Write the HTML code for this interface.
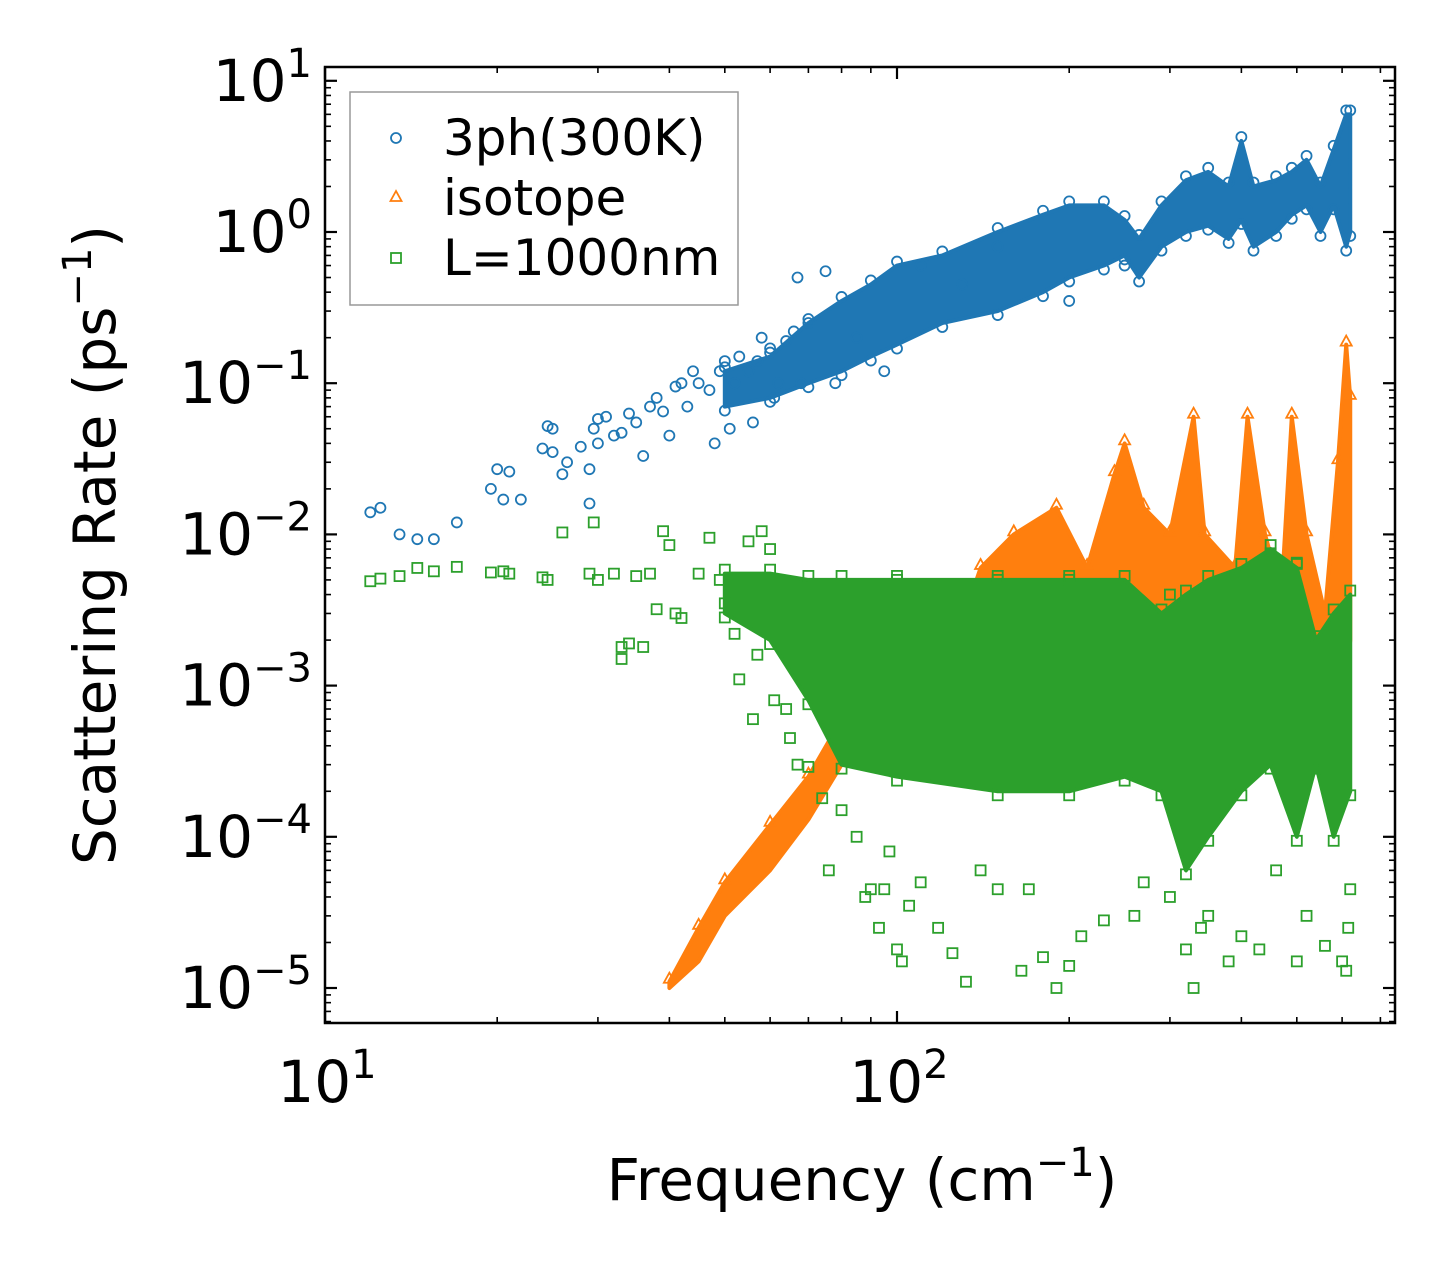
<!DOCTYPE html>
<html><head><meta charset="utf-8"><style>
html,body{margin:0;padding:0;background:#fff;}
svg{display:block;font-family:"DejaVu Sans","Liberation Sans",sans-serif;}
</style></head><body>
<svg id="chart" width="1455" height="1273" viewBox="0 0 1455 1273">
<g id="marks"></g>
<g id="axes"></g>
</svg>
<script>
// ---- data ----
const blueSparseF = [12,12.5,13.5,14.5,15.5,17,19.5,20,20.5,21,22,24,24.5,25,25,26,26.5,28,29,29,29.5,30,30,31,32,33,34,35,36,37,38,39,40,41,42,43,44,45,47,48,49,50,51,52,53,55,56,57,58,60,61,62,64,66,67,68,70,75,78,85,95,110,130,150,200,250];
const blueSparseR = [0.014,0.015,0.01,0.0093,0.0093,0.012,0.02,0.027,0.017,0.026,0.017,0.037,0.052,0.05,0.035,0.025,0.03,0.038,0.016,0.027,0.05,0.058,0.04,0.06,0.045,0.047,0.063,0.055,0.033,0.07,0.08,0.065,0.045,0.095,0.1,0.07,0.12,0.1,0.09,0.04,0.12,0.14,0.05,0.1,0.15,0.12,0.055,0.14,0.2,0.17,0.08,0.1,0.19,0.22,0.5,0.1,0.25,0.55,0.1,0.2,0.12,0.6,0.45,0.8,0.35,0.6];
const blueBandF  = [50,60,70,80,90,100,120,150,180,200,230,250,265,290,320,350,380,400,420,460,490,520,550,580,610,620];
const blueBandLo = [0.07,0.08,0.1,0.12,0.15,0.18,0.25,0.3,0.4,0.5,0.6,0.7,0.5,0.8,1.0,1.1,0.9,1.2,0.8,1.0,1.3,1.5,1.0,1.5,0.8,1.0];
const blueBandHi = [0.12,0.15,0.25,0.35,0.45,0.6,0.7,1.0,1.3,1.5,1.5,1.2,0.9,1.5,2.2,2.5,2.0,4,2,2.2,2.5,3,2.0,3.5,6,6];

const orangeBandF  = [40,45,50,60,70,80,90,135,140,160,190,215,240,250,270,300,330,345,390,410,440,470,490,520,560,590,610,620];
const orangeBandLo = [1e-5,1.5e-5,3e-5,6e-5,1.3e-4,3e-4,4e-4,5e-4,5e-4,5e-4,5e-4,6e-4,6e-4,1e-3,1e-3,1e-3,1e-3,1e-3,1e-3,1e-3,1e-3,1e-3,1e-3,1e-3,1e-3,1e-3,1e-3,2e-3];
const orangeBandHi = [1.1e-5,2.5e-5,5e-5,1.2e-4,2.5e-4,6e-4,1e-3,4e-3,6e-3,0.01,0.015,0.006,0.025,0.04,0.015,0.01,0.06,0.01,0.006,0.06,0.01,0.004,0.06,0.01,0.003,0.03,0.18,0.08];

const greenSparseF = [12,12.5,13.5,14.5,15.5,17,19.5,20.5,21,24,24.5,26,29,29.5,30,32,33,33,34,35,36,37,38,39,40,41,42,45,47,49,50,52,53,55,56,57,58,60,61,64,65,67,70,74,76,80,85,88,90,93,95,97,100,102,105,110,118,125,132,140,150,165,170,180,190,200,210,230,260,270,300,320,330,340,350,380,400,430,460,500,520,560,600,610,615,620,100,150,200,300,450,500];
const greenSparseR = [0.0049,0.0051,0.0053,0.006,0.0057,0.0061,0.0056,0.0057,0.0055,0.0052,0.005,0.0103,0.0055,0.012,0.005,0.0055,0.0015,0.0018,0.0019,0.0053,0.0018,0.0055,0.0032,0.0105,0.0085,0.003,0.0028,0.0055,0.0095,0.005,0.0035,0.0022,0.0011,0.009,0.0006,0.0016,0.0105,0.008,0.0008,0.0007,0.00045,0.0003,0.00029,0.00018,0.00006,0.00015,0.0001,4e-5,4.5e-5,2.5e-5,4.5e-5,8e-5,1.8e-5,1.5e-5,3.5e-5,5e-5,2.5e-5,1.7e-5,1.1e-5,6e-5,4.5e-5,1.3e-5,4.5e-5,1.6e-5,1e-5,1.4e-5,2.2e-5,2.8e-5,3e-5,5e-5,4e-5,1.8e-5,1e-5,2.5e-5,3e-5,1.5e-5,2.2e-5,1.8e-5,6e-5,1.5e-5,3e-5,1.9e-5,1.5e-5,1.3e-5,2.5e-5,4.5e-5,0.005,0.005,0.005,0.004,0.0075,0.0065];
const greenBandF  = [50,60,70,80,100,150,200,250,290,320,350,400,450,500,540,580,620];
const greenBandLo = [0.003,0.002,0.0008,0.0003,0.00025,0.0002,0.0002,0.00025,0.0002,0.00006,0.0001,0.0002,0.0003,0.0001,0.0003,0.0001,0.0002];
const greenBandHi = [0.0055,0.0055,0.005,0.005,0.005,0.005,0.005,0.005,0.003,0.004,0.005,0.006,0.008,0.006,0.002,0.003,0.004];

const xTickVals = [10,100];
const xTickExp = ['1','2'];
const yTickVals = [10,1,0.1,0.01,0.001,0.0001,0.00001];
const yTickExp = ['1','0','\u22121','\u22122','\u22123','\u22124','\u22125'];

// ---- scales ----
const L=325,R=1395,T=67,B=1023;
const X=f=>L+572*(Math.log10(f)-1);
const Y=r=>232-151.2*Math.log10(r);
const NS='http://www.w3.org/2000/svg';
const marks=document.getElementById('marks'), axes=document.getElementById('axes');
function mk(tag,attrs,parent){const e=document.createElementNS(NS,tag);for(const k in attrs)e.setAttribute(k,attrs[k]);parent.appendChild(e);return e;}

const BLUE='#1f77b4',ORANGE='#ff7f0e',GREEN='#2ca02c';
function band(F,Lo,Hi,color,name){
  const pts=[];
  for(let i=0;i<F.length;i++)pts.push(X(F[i])+','+Y(Hi[i]));
  for(let i=F.length-1;i>=0;i--)pts.push(X(F[i])+','+Y(Lo[i]));
  const p=mk('polygon',{points:pts.join(' '),fill:color,stroke:color,'stroke-width':4,'stroke-linejoin':'round'},marks);
  
  
}
function circle(cx,cy,parent){const c=mk('circle',{cx:cx,cy:cy,r:5,fill:'none',stroke:BLUE,'stroke-width':1.8},parent);
  
  }
function square(cx,cy,parent){const s=mk('rect',{x:cx-5,y:cy-5,width:10,height:10,fill:'none',stroke:GREEN,'stroke-width':1.8},parent);
  
  }
function tri(cx,cy,parent){const t=mk('polygon',{points:`${cx},${cy-6} ${cx-5.5},${cy+4} ${cx+5.5},${cy+4}`,fill:'none',stroke:ORANGE,'stroke-width':1.8},parent);
  
  }

band(blueBandF,blueBandLo,blueBandHi,BLUE,'band-3ph');
for(let i=0;i<blueBandF.length;i++){circle(X(blueBandF[i]),Y(blueBandHi[i])-4,marks);circle(X(blueBandF[i]),Y(blueBandLo[i])+4,marks);}
for(let i=0;i<blueSparseF.length;i++)circle(X(blueSparseF[i]),Y(blueSparseR[i]),marks);
band(orangeBandF,orangeBandLo,orangeBandHi,ORANGE,'band-isotope');
for(let i=0;i<orangeBandF.length;i++)tri(X(orangeBandF[i]),Y(orangeBandHi[i])-3,marks);
band(greenBandF,greenBandLo,greenBandHi,GREEN,'band-boundary');
for(let i=0;i<greenBandF.length;i++){square(X(greenBandF[i]),Y(greenBandHi[i])-4,marks);square(X(greenBandF[i]),Y(greenBandLo[i])+4,marks);}
for(let i=0;i<greenSparseF.length;i++)square(X(greenSparseF[i]),Y(greenSparseR[i]),marks);

// ---- axes ----
const frame=mk('rect',{x:L,y:T,width:R-L,height:B-T,fill:'none',stroke:'#000','stroke-width':2.5},axes);


function tick(x1,y1,x2,y2,w){mk('line',{x1,y1,x2,y2,stroke:'#000','stroke-width':w},axes);}
for(let d=1;d<=3;d++)for(let m=1;m<=9;m++){const f=m*Math.pow(10,d);const x=X(f);if(x<L-0.5||x>R+0.5)continue;
  const len=m===1?12:6,w=m===1?2.2:1.6;tick(x,B,x,B-len,w);tick(x,T,x,T+len,w);}
for(let e=-6;e<=1;e++)for(let m=1;m<=9;m++){const r=m*Math.pow(10,e);const y=Y(r);if(y<T-0.5||y>B+0.5)continue;
  const len=m===1?12:6,w=m===1?2.2:1.6;tick(L,y,L+len,y,w);tick(R,y,R-len,y,w);}
function powLabel(x,y,exp,anchor,name){
  const t=mk('text',{x:x,y:y,'font-size':58,'text-anchor':anchor,fill:'#000'},axes);
  
  
  const a=mk('tspan',{},t);a.textContent='10';
  const b=mk('tspan',{dy:-24,'font-size':40},t);b.textContent=exp;
}
for(let i=0;i<xTickVals.length;i++)powLabel(X(xTickVals[i])+2,1102,xTickExp[i],'middle','x-tick-label');
for(let i=0;i<yTickVals.length;i++)powLabel(312,Y(yTickVals[i])+20,yTickExp[i],'end','y-tick-label');
</script>
<svg style="position:absolute;left:0;top:0" width="1455" height="1273">
<text x="862" y="1200" font-family="DejaVu Sans, Liberation Sans, sans-serif" font-size="58" text-anchor="middle">Frequency (cm<tspan dy="-24" font-size="40">−1</tspan><tspan dy="24">)</tspan></text>
<text transform="translate(115,545) rotate(-90)" font-family="DejaVu Sans, Liberation Sans, sans-serif" font-size="58" text-anchor="middle">Scattering Rate (ps<tspan dy="-24" font-size="40">−1</tspan><tspan dy="24">)</tspan></text>
<g>
<rect x="350" y="92" width="388" height="213" fill="#fff" fill-opacity="0.8" stroke="#999" stroke-width="1.5"/>
<circle cx="396" cy="138" r="5" fill="none" stroke="#1f77b4" stroke-width="1.8"/>
<text x="443" y="155" font-family="DejaVu Sans, Liberation Sans, sans-serif" font-size="50">3ph(300K)</text>
<polygon points="396,191 390.5,201 401.5,201" fill="none" stroke="#ff7f0e" stroke-width="1.8"/>
<text x="443" y="215" font-family="DejaVu Sans, Liberation Sans, sans-serif" font-size="50">isotope</text>
<rect x="391" y="253" width="10" height="10" fill="none" stroke="#2ca02c" stroke-width="1.8"/>
<text x="443" y="275" font-family="DejaVu Sans, Liberation Sans, sans-serif" font-size="50">L=1000nm</text>
</g>
</svg>
</body></html>
